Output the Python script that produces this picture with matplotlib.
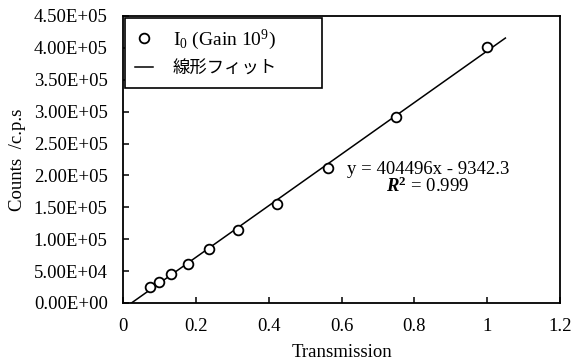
import numpy as np
import matplotlib
matplotlib.use("Agg")
import matplotlib.pyplot as plt
from matplotlib.ticker import FormatStrFormatter, MultipleLocator

# --- datos ---
transmission = [0.075, 0.100, 0.133, 0.178, 0.237, 0.316, 0.422, 0.563, 0.750, 1.000]
counts = [24600, 33400, 45000, 61600, 84600, 114400, 155600, 211600, 291000, 401700]

# linea de ajuste (y = a x + b)
slope = 404496
intercept = -9342.3
fit_x = [-intercept / slope, 1.05]
r2_text = "0.999"

plt.rcParams['font.family'] = ['Liberation Serif', 'Noto Sans CJK JP']
plt.rcParams['mathtext.fontset'] = 'custom'
plt.rcParams['mathtext.rm'] = 'Liberation Serif'
plt.rcParams['mathtext.it'] = 'Liberation Serif:italic'
plt.rcParams['mathtext.bf'] = 'Liberation Serif:bold'
plt.rcParams['mathtext.bfit'] = 'Liberation Serif:italic:bold'

fig = plt.figure(figsize=(5.73, 3.63), dpi=100)
ax = fig.add_axes([0.2147, 0.1653, 0.7626, 0.7907])

ax.plot(transmission, counts, linestyle='none', marker='o', markersize=7,
        markerfacecolor='white', markeredgecolor='black', markeredgewidth=1.3,
        label=r"I$_0$ (Gain 10$^9$)", zorder=3)
fit_y = [slope * x + intercept for x in fit_x]
ax.plot(fit_x, fit_y, color='black', linewidth=1.1, label="線形フィット", zorder=2)

ax.set_xlim(0, 1.2)
ax.set_ylim(0, 4.5e5)
ax.yaxis.set_major_locator(MultipleLocator(5e4))
ax.yaxis.set_major_formatter(FormatStrFormatter('%.2E'))
ax.set_xticks([0, 0.2, 0.4, 0.6, 0.8, 1.0, 1.2])
ax.set_xticklabels(["0", "0.2", "0.4", "0.6", "0.8", "1", "1.2"])

ax.tick_params(axis='both', direction='in', length=4, width=1.1, labelsize=13.5)
ax.tick_params(axis='x', pad=11)
ax.tick_params(axis='y', pad=11)
for sp in ax.spines.values():
    sp.set_linewidth(1.3)
    sp.set_color('black')

ax.set_xlabel("Transmission", fontsize=13.5)
ax.set_ylabel("Counts  /c.p.s", fontsize=13.5)
ax.xaxis.set_label_coords(0.5, -0.143)
ax.yaxis.set_label_coords(-0.222, 0.50)

# ecuacion del ajuste
ax.text(0.8375, 202200, f"y = {slope}x - {abs(intercept)}", ha='center', va='baseline', fontsize=13.5)
ax.text(0.8375, 174000, r"$\mathbfit{R}^{\mathbf{2}}$ = " + r2_text, ha='center', va='baseline', fontsize=13.5)

leg = ax.legend(loc='upper left', bbox_to_anchor=(0.0046, 0.5, 0.451, 0.493), mode='expand',
                fontsize=14, frameon=True, fancybox=False, framealpha=1, edgecolor='black',
                handlelength=0.95, handletextpad=1.0, borderpad=0.5, labelspacing=0.42,
                borderaxespad=0)
leg.get_frame().set_linewidth(1.2)
leg.get_texts()[1].set_fontfamily(['Noto Sans CJK JP'])
leg.get_texts()[1].set_fontsize(12.5)

fig.savefig("out.png", dpi=100)
